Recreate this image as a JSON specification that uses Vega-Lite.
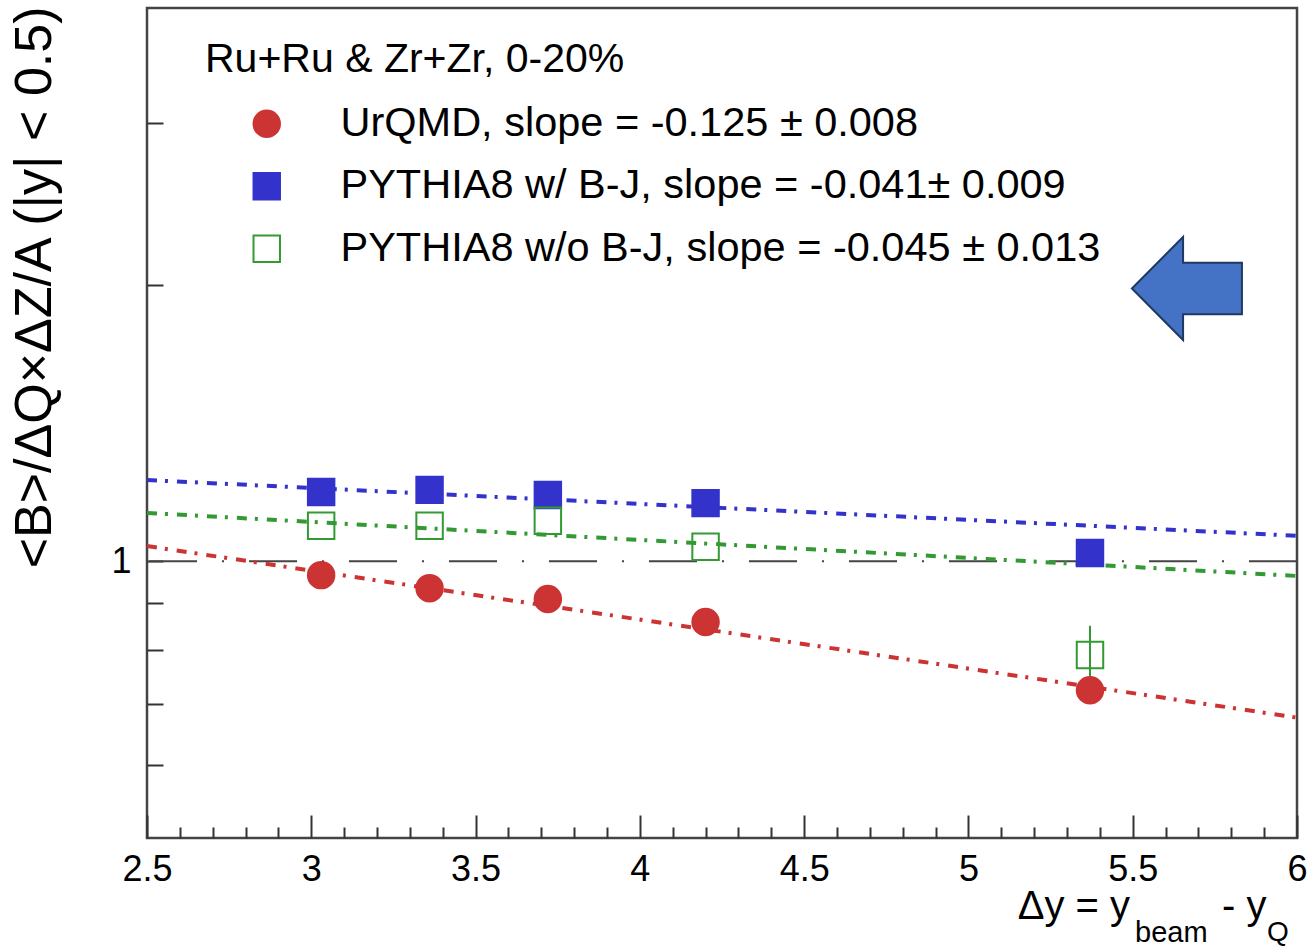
{
  "$schema": "https://vega.github.io/schema/vega-lite/v6.json",
  "width": 1150,
  "height": 830,
  "autosize": {"type": "none"},
  "padding": {"left": 147, "top": 8, "right": 12, "bottom": 111},
  "background": "white",
  "config": {
    "view": {"stroke": "#444", "strokeWidth": 2.5},
    "font": "Liberation Sans",
    "axis": {"grid": false, "domain": false, "labelFont": "Liberation Sans", "titleFont": "Liberation Sans", "tickColor": "#333", "tickWidth": 2, "labelColor": "#000", "titleColor": "#000", "titleFontWeight": "normal"}
  },
  "datasets": {
    "points": [
      {"series": "UrQMD, slope = -0.125 ± 0.008", "x": 3.03, "y": 0.966},
      {"series": "UrQMD, slope = -0.125 ± 0.008", "x": 3.36, "y": 0.935},
      {"series": "UrQMD, slope = -0.125 ± 0.008", "x": 3.72, "y": 0.910},
      {"series": "UrQMD, slope = -0.125 ± 0.008", "x": 4.2, "y": 0.859},
      {"series": "UrQMD, slope = -0.125 ± 0.008", "x": 5.37, "y": 0.724},
      {"series": "PYTHIA8 w/ B-J, slope = -0.041± 0.009", "x": 3.03, "y": 1.190},
      {"series": "PYTHIA8 w/ B-J, slope = -0.041± 0.009", "x": 3.36, "y": 1.196},
      {"series": "PYTHIA8 w/ B-J, slope = -0.041± 0.009", "x": 3.72, "y": 1.181},
      {"series": "PYTHIA8 w/ B-J, slope = -0.041± 0.009", "x": 4.2, "y": 1.157},
      {"series": "PYTHIA8 w/ B-J, slope = -0.041± 0.009", "x": 5.37, "y": 1.021},
      {"series": "PYTHIA8 w/o B-J, slope = -0.045 ± 0.013", "x": 3.03, "y": 1.093},
      {"series": "PYTHIA8 w/o B-J, slope = -0.045 ± 0.013", "x": 3.36, "y": 1.093},
      {"series": "PYTHIA8 w/o B-J, slope = -0.045 ± 0.013", "x": 3.72, "y": 1.107},
      {"series": "PYTHIA8 w/o B-J, slope = -0.045 ± 0.013", "x": 4.2, "y": 1.037},
      {"series": "PYTHIA8 w/o B-J, slope = -0.045 ± 0.013", "x": 5.37, "y": 0.791}
    ],
    "errors": [
      {"series": "PYTHIA8 w/o B-J", "x": 5.37, "lo": 0.733, "hi": 0.851}
    ],
    "fits": [
      {"fit": "red", "x": 2.5, "y": 1.039},
      {"fit": "red", "x": 6.0, "y": 0.676},
      {"fit": "blue", "x": 2.5, "y": 1.226},
      {"fit": "blue", "x": 6.0, "y": 1.066},
      {"fit": "green", "x": 2.5, "y": 1.129},
      {"fit": "green", "x": 6.0, "y": 0.964}
    ]
  },
  "layer": [
    {
      "data": {"values": [{"ref": 1}]},
      "mark": {"type": "rule", "stroke": "#444", "strokeWidth": 2, "strokeDash": [48, 25, 2, 25]},
      "encoding": {
        "y": {"field": "ref", "type": "quantitative", "scale": {"type": "log", "domain": [0.5, 4]}, "axis": null}
      }
    },
    {
      "data": {"name": "fits"},
      "transform": [{"filter": "datum.fit == 'red'"}],
      "mark": {"type": "line", "stroke": "#cc3333", "strokeWidth": 4, "strokeDash": [10, 8, 3, 9]},
      "encoding": {
        "x": {"field": "x", "type": "quantitative", "scale": {"type": "linear", "domain": [2.5, 6], "zero": false, "nice": false},
          "axis": {"orient": "bottom", "values": [2.5, 3, 3.5, 4, 4.5, 5, 5.5, 6], "labelExpr": "'' + datum.value", "ticks": false, "labelFontSize": 36, "labelPadding": 14, "labelFlush": false, "title": null}},
        "y": {"field": "y", "type": "quantitative", "scale": {"type": "log", "domain": [0.5, 4], "nice": false},
          "axis": {"orient": "left", "values": [1], "labelExpr": "'1'", "ticks": false, "labelFontSize": 36, "labelPadding": 16,
            "title": "<B>/ΔQ×ΔZ/A (|y| < 0.5)", "titleFontSize": 52, "titleAngle": -90, "titleAlign": "right", "titleBaseline": "middle", "titleX": -113, "titleY": -2, "titleLimit": 2000}}
      }
    },
    {
      "data": {"name": "fits"},
      "transform": [{"filter": "datum.fit == 'blue'"}],
      "mark": {"type": "line", "stroke": "#3333cc", "strokeWidth": 4, "strokeDash": [10, 8, 3, 9]},
      "encoding": {
        "x": {"field": "x", "type": "quantitative", "scale": {"type": "linear", "domain": [2.5, 6], "zero": false, "nice": false},
          "axis": {"orient": "bottom", "values": [2.6, 2.7, 2.8, 2.9, 3.1, 3.2, 3.3, 3.4, 3.6, 3.7, 3.8, 3.9, 4.1, 4.2, 4.3, 4.4, 4.6, 4.7, 4.8, 4.9, 5.1, 5.2, 5.3, 5.4, 5.6, 5.7, 5.8, 5.9], "labels": false, "tickSize": 11, "offset": -11, "title": null}},
        "y": {"field": "y", "type": "quantitative", "scale": {"type": "log", "domain": [0.5, 4], "nice": false}, "axis": null}
      }
    },
    {
      "data": {"name": "fits"},
      "transform": [{"filter": "datum.fit == 'green'"}],
      "mark": {"type": "line", "stroke": "#339933", "strokeWidth": 4, "strokeDash": [10, 8, 3, 9]},
      "encoding": {
        "x": {"field": "x", "type": "quantitative", "scale": {"type": "linear", "domain": [2.5, 6], "zero": false, "nice": false}, "axis": null},
        "y": {"field": "y", "type": "quantitative", "scale": {"type": "log", "domain": [0.5, 4], "nice": false}, "axis": null}
      }
    },
    {
      "data": {"name": "errors"},
      "mark": {"type": "rule", "stroke": "#339933", "strokeWidth": 2},
      "encoding": {
        "x": {"field": "x", "type": "quantitative", "scale": {"type": "linear", "domain": [2.5, 6], "zero": false, "nice": false}, "axis": null},
        "y": {"field": "lo", "type": "quantitative", "scale": {"type": "log", "domain": [0.5, 4], "nice": false}, "axis": null},
        "y2": {"field": "hi"}
      }
    },
    {
      "data": {"name": "points"},
      "mark": {"type": "point", "filled": true, "size": 700, "strokeWidth": 2, "opacity": 1},
      "encoding": {
        "x": {"field": "x", "type": "quantitative", "scale": {"type": "linear", "domain": [2.5, 6], "zero": false, "nice": false},
          "axis": {"orient": "bottom", "values": [2.5, 3, 3.5, 4, 4.5, 5, 5.5, 6], "labels": false, "tickSize": 23, "offset": -23, "title": null}},
        "y": {"field": "y", "type": "quantitative", "scale": {"type": "log", "domain": [0.5, 4], "nice": false},
          "axis": {"orient": "left", "values": [0.6, 0.7, 0.8, 0.9, 1, 2, 3], "labels": false, "tickSize": 16, "offset": -16, "title": null}},
        "fill": {"field": "series", "type": "nominal",
          "scale": {"domain": ["UrQMD, slope = -0.125 ± 0.008", "PYTHIA8 w/ B-J, slope = -0.041± 0.009", "PYTHIA8 w/o B-J, slope = -0.045 ± 0.013"], "range": ["#cc3333", "#3333cc", "transparent"]},
          "legend": {"title": "Ru+Ru & Zr+Zr, 0-20%", "orient": "none", "legendX": 58, "legendY": 32, "direction": "vertical", "padding": 0,
            "titleFont": "Liberation Sans", "titleFontSize": 41, "titleFontWeight": "normal", "titleColor": "#000", "titlePadding": 22, "titleLimit": 2000,
            "labelFont": "Liberation Sans", "labelFontSize": 41.5, "labelColor": "#000", "labelLimit": 2000, "labelOffset": 53,
            "symbolSize": 700, "symbolOffset": 41, "symbolStrokeWidth": 2, "symbolOpacity": 1, "rowPadding": 19.5}},
        "stroke": {"field": "series", "type": "nominal",
          "scale": {"domain": ["UrQMD, slope = -0.125 ± 0.008", "PYTHIA8 w/ B-J, slope = -0.041± 0.009", "PYTHIA8 w/o B-J, slope = -0.045 ± 0.013"], "range": ["#cc3333", "#3333cc", "#339933"]}},
        "shape": {"field": "series", "type": "nominal",
          "scale": {"domain": ["UrQMD, slope = -0.125 ± 0.008", "PYTHIA8 w/ B-J, slope = -0.041± 0.009", "PYTHIA8 w/o B-J, slope = -0.045 ± 0.013"], "range": ["circle", "square", "square"]}}
      }
    },
    {
      "data": {"values": [{"ax": 5.665, "ay": 1.981}]},
      "mark": {"type": "point", "filled": true, "opacity": 1, "fill": "#4472c4", "stroke": "#1f3864", "strokeWidth": 2, "size": 12100,
        "shape": "M-1,0 L-0.07,-0.936 L-0.07,-0.47 L1,-0.47 L1,0.47 L-0.07,0.47 L-0.07,0.936 Z"},
      "encoding": {
        "x": {"field": "ax", "type": "quantitative", "scale": {"type": "linear", "domain": [2.5, 6], "zero": false, "nice": false}, "axis": null},
        "y": {"field": "ay", "type": "quantitative", "scale": {"type": "log", "domain": [0.5, 4], "nice": false}, "axis": null}
      }
    },
    {
      "data": {"values": [{"t": "Δy = y", "tx": 5.492, "ty": 0.408}]},
      "mark": {"type": "text", "align": "right", "baseline": "alphabetic", "fontSize": 40, "font": "Liberation Sans", "color": "#000"},
      "encoding": {
        "x": {"field": "tx", "type": "quantitative", "scale": {"type": "linear", "domain": [2.5, 6], "zero": false, "nice": false}, "axis": null},
        "y": {"field": "ty", "type": "quantitative", "scale": {"type": "log", "domain": [0.5, 4], "nice": false}, "axis": null},
        "text": {"field": "t"}
      }
    },
    {
      "data": {"values": [{"t": "beam", "tx": 5.507, "ty": 0.3855}]},
      "mark": {"type": "text", "align": "left", "baseline": "alphabetic", "fontSize": 29, "font": "Liberation Sans", "color": "#000"},
      "encoding": {
        "x": {"field": "tx", "type": "quantitative", "scale": {"type": "linear", "domain": [2.5, 6], "zero": false, "nice": false}, "axis": null},
        "y": {"field": "ty", "type": "quantitative", "scale": {"type": "log", "domain": [0.5, 4], "nice": false}, "axis": null},
        "text": {"field": "t"}
      }
    },
    {
      "data": {"values": [{"t": "- y", "tx": 5.772, "ty": 0.408}]},
      "mark": {"type": "text", "align": "left", "baseline": "alphabetic", "fontSize": 40, "font": "Liberation Sans", "color": "#000"},
      "encoding": {
        "x": {"field": "tx", "type": "quantitative", "scale": {"type": "linear", "domain": [2.5, 6], "zero": false, "nice": false}, "axis": null},
        "y": {"field": "ty", "type": "quantitative", "scale": {"type": "log", "domain": [0.5, 4], "nice": false}, "axis": null},
        "text": {"field": "t"}
      }
    },
    {
      "data": {"values": [{"t": "Q", "tx": 5.909, "ty": 0.386}]},
      "mark": {"type": "text", "align": "left", "baseline": "alphabetic", "fontSize": 28, "font": "Liberation Sans", "color": "#000"},
      "encoding": {
        "x": {"field": "tx", "type": "quantitative", "scale": {"type": "linear", "domain": [2.5, 6], "zero": false, "nice": false}, "axis": null},
        "y": {"field": "ty", "type": "quantitative", "scale": {"type": "log", "domain": [0.5, 4], "nice": false}, "axis": null},
        "text": {"field": "t"}
      }
    }
  ],
  "resolve": {"axis": {"x": "independent", "y": "independent"}}
}
